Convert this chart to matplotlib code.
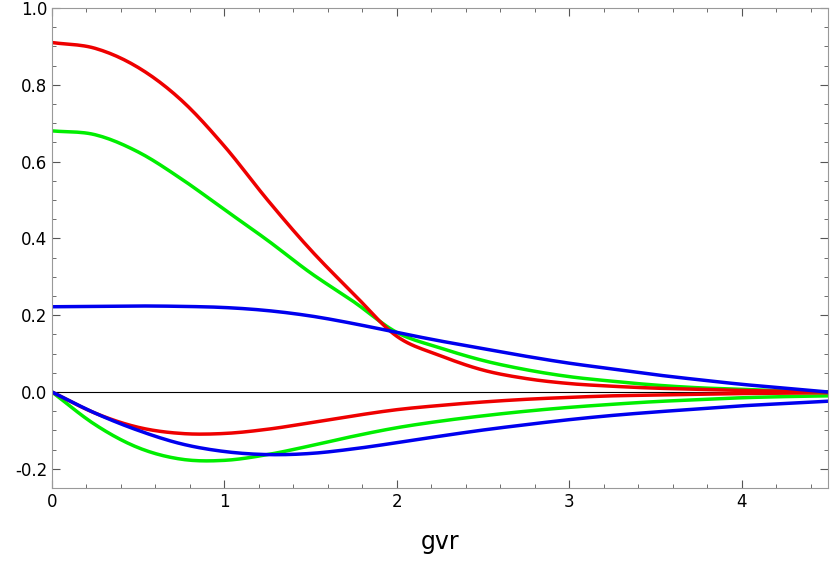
import matplotlib
matplotlib.use("Agg")
import matplotlib.pyplot as plt
import numpy as np
from matplotlib.ticker import MultipleLocator

x = np.arange(19) * 0.25
red_up = [0.91,0.895,0.845,0.76,0.64,0.50,0.37,0.255,0.145,0.095,0.057,0.035,0.022,0.015,0.01,0.007,0.004,0.002,0.0]
green_up = [0.68,0.67,0.625,0.555,0.475,0.395,0.31,0.235,0.155,0.115,0.082,0.058,0.04,0.028,0.018,0.011,0.007,0.003,0.0]
blue_up = [0.222,0.223,0.224,0.223,0.22,0.212,0.198,0.178,0.155,0.133,0.113,0.093,0.075,0.06,0.045,0.032,0.02,0.01,0.0]
red_low = [0,-0.055,-0.092,-0.108,-0.108,-0.097,-0.08,-0.062,-0.046,-0.035,-0.026,-0.019,-0.014,-0.01,-0.008,-0.006,-0.004,-0.003,-0.002]
green_low = [0,-0.085,-0.145,-0.175,-0.178,-0.163,-0.14,-0.115,-0.093,-0.076,-0.062,-0.05,-0.04,-0.032,-0.025,-0.02,-0.015,-0.012,-0.01]
blue_low = [0,-0.055,-0.1,-0.135,-0.155,-0.163,-0.16,-0.148,-0.132,-0.115,-0.099,-0.085,-0.072,-0.061,-0.052,-0.044,-0.036,-0.03,-0.024]

def smooth(xs, ys, n=12):
    # Catmull-Rom rendering through the read points
    xs = np.asarray(xs, float); ys = np.asarray(ys, float)
    px = np.concatenate([[2*xs[0]-xs[1]], xs, [2*xs[-1]-xs[-2]]])
    py = np.concatenate([[2*ys[0]-ys[1]], ys, [2*ys[-1]-ys[-2]]])
    ox, oy = [], []
    t = np.linspace(0, 1, n, endpoint=False)
    for i in range(1, len(px)-2):
        for arr, out in ((px, ox), (py, oy)):
            p0, p1, p2, p3 = arr[i-1], arr[i], arr[i+1], arr[i+2]
            out.extend(0.5*((2*p1) + (-p0+p2)*t + (2*p0-5*p1+4*p2-p3)*t**2 + (-p0+3*p1-3*p2+p3)*t**3))
    ox.append(xs[-1]); oy.append(ys[-1])
    return ox, oy

fig = plt.figure(figsize=(8.3, 5.73), dpi=100)
ax = fig.add_axes([52/830, 1-488/573, 776/830, 480/573])
ax.axhline(0, color="black", lw=0.8)
for ys, c in [(green_low, "#00ee00"), (red_low, "#ee0000"), (blue_low, "#0000ee"),
              (green_up, "#00ee00"), (red_up, "#ee0000"), (blue_up, "#0000ee")]:
    sx, sy = smooth(x, ys)
    ax.plot(sx, sy, color=c, lw=2.5, solid_capstyle="round")
ax.set_xlim(0, 4.5)
ax.set_ylim(-0.25, 1.0)
ax.xaxis.set_major_locator(MultipleLocator(1))
ax.xaxis.set_minor_locator(MultipleLocator(0.2))
ax.yaxis.set_major_locator(MultipleLocator(0.2))
ax.yaxis.set_minor_locator(MultipleLocator(0.05))
ax.tick_params(which="both", direction="in", top=True, right=True, labelsize=12, colors="#555555", labelcolor="black")
ax.tick_params(which="major", length=6)
ax.tick_params(which="minor", length=3)
for s in ax.spines.values():
    s.set_color("#999999")
ax.set_xticks([0,1,2,3,4])
ax.set_xticklabels(["0","1","2","3","4"])
ax.set_yticks([-0.2,0,0.2,0.4,0.6,0.8,1.0])
ax.set_yticklabels(["-0.2","0.0","0.2","0.4","0.6","0.8","1.0"])
ax.set_xlabel("gvr", fontsize=17, labelpad=14)
fig.savefig("out.png", dpi=100)
